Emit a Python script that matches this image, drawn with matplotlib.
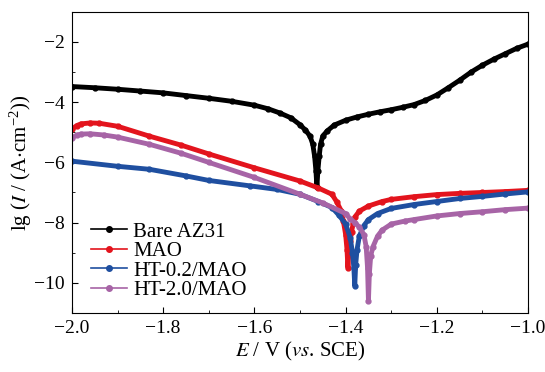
import matplotlib
matplotlib.use("Agg")
from matplotlib import pyplot as plt
from matplotlib.ticker import MultipleLocator, FuncFormatter

plt.rcParams['font.family'] = ['Liberation Serif', 'DejaVu Serif']
plt.rcParams['mathtext.fontset'] = 'stix'

# values (E in V, lg I)
bare_E = [-2.0, -1.95, -1.9, -1.85, -1.8, -1.75, -1.7, -1.65, -1.6, -1.57, -1.544, -1.52, -1.5,
          -1.488, -1.478, -1.472, -1.468, -1.465, -1.463, -1.461, -1.458, -1.455, -1.45, -1.44,
          -1.425, -1.4, -1.375, -1.35, -1.325, -1.3, -1.275, -1.25, -1.225, -1.2, -1.175, -1.15,
          -1.125, -1.1, -1.075, -1.05, -1.025, -1.0]
bare_I = [-3.48, -3.52, -3.57, -3.63, -3.69, -3.78, -3.87, -3.97, -4.1, -4.22, -4.36, -4.52, -4.75,
          -4.93, -5.13, -5.4, -5.8, -6.3, -6.83, -6.3, -5.8, -5.4, -5.12, -4.95,
          -4.76, -4.6, -4.49, -4.4, -4.32, -4.25, -4.17, -4.08, -3.94, -3.76, -3.52, -3.27,
          -3.0, -2.77, -2.57, -2.39, -2.21, -2.07]

mao_E = [-2.0, -1.99, -1.98, -1.96, -1.94, -1.9, -1.83, -1.76, -1.7, -1.6, -1.5, -1.46, -1.43,
         -1.42, -1.41, -1.405, -1.4, -1.397, -1.395, -1.393, -1.39, -1.387, -1.383, -1.38, -1.37,
         -1.35, -1.32, -1.3, -1.25, -1.2, -1.15, -1.1, -1.05, -1.0]
mao_I = [-4.9, -4.78, -4.72, -4.69, -4.7, -4.8, -5.13, -5.43, -5.72, -6.18, -6.62, -6.85, -7.06,
         -7.3, -7.6, -7.95, -8.4, -8.9, -9.5, -9.0, -8.6, -8.3, -8.0, -7.82, -7.62,
         -7.45, -7.3, -7.23, -7.14, -7.07, -7.03, -7.0, -6.97, -6.93]

ht02_E = [-2.0, -1.9, -1.83, -1.75, -1.7, -1.61, -1.55, -1.5, -1.46, -1.43, -1.415, -1.4, -1.39,
          -1.385, -1.382, -1.38, -1.378, -1.375, -1.37, -1.36, -1.35, -1.33, -1.3, -1.25, -1.2,
          -1.15, -1.1, -1.05, -1.0]
ht02_I = [-5.96, -6.13, -6.23, -6.45, -6.6, -6.78, -6.9, -7.06, -7.3, -7.5, -7.75, -8.05, -8.5,
          -9.0, -9.5, -10.1, -9.4, -8.9, -8.45, -8.1, -7.9, -7.7, -7.53, -7.4, -7.3,
          -7.2, -7.13, -7.05, -6.98]

ht20_E = [-2.0, -1.99, -1.98, -1.96, -1.93, -1.9, -1.83, -1.76, -1.7, -1.6, -1.5, -1.45, -1.4,
          -1.39, -1.38, -1.37, -1.36, -1.355, -1.352, -1.35, -1.348, -1.345, -1.34, -1.33, -1.32,
          -1.3, -1.27, -1.25, -1.2, -1.15, -1.1, -1.05, -1.0]
ht20_I = [-5.18, -5.1, -5.06, -5.05, -5.09, -5.16, -5.4, -5.7, -6.0, -6.5, -7.06, -7.35, -7.7,
          -7.88, -8.0, -8.15, -8.4, -8.8, -9.5, -10.6, -9.7, -9.1, -8.8, -8.45, -8.25,
          -8.05, -7.95, -7.9, -7.78, -7.7, -7.64, -7.57, -7.52]

labels = ['Bare AZ31', 'MAO', 'HT-0.2/MAO', 'HT-2.0/MAO']
colors = ['black', '#e3141d', '#1f4fa0', '#a764a6']

fig = plt.figure(figsize=(5.45, 3.72), dpi=100)
ax = fig.add_axes([0.132, 0.159, 0.837, 0.809])

for E, I, lab, c in zip([bare_E, mao_E, ht02_E, ht20_E], [bare_I, mao_I, ht02_I, ht20_I], labels, colors):
    ax.plot(E, I, color=c, lw=3.5, marker='o', ms=3.5, label=lab)

ax.set_xlim(-2.0, -1.0)
ax.set_ylim(-11, -1)
ax.xaxis.set_major_locator(MultipleLocator(0.2))
ax.xaxis.set_minor_locator(MultipleLocator(0.1))
ax.yaxis.set_major_locator(MultipleLocator(2))
ax.yaxis.set_minor_locator(MultipleLocator(1))
ax.xaxis.set_major_formatter(FuncFormatter(lambda v, p: ('%.1f' % v).replace('-', '\u2212')))
ax.yaxis.set_major_formatter(FuncFormatter(lambda v, p: ('%d' % v).replace('-', '\u2212')))
ax.tick_params(which='both', direction='in', labelsize=14, pad=5)
ax.tick_params(which='major', length=4)
ax.tick_params(which='minor', length=2.5)

ax.set_xlabel(r'$E$ / V ($vs$. SCE)', fontsize=15, labelpad=2)
ax.set_ylabel(r'lg ($I$ / (A$\cdot$cm$^{\mathregular{-2}}$))', fontsize=15, labelpad=0)

leg = ax.legend(loc='lower left', frameon=False, fontsize=15, handlelength=1.7, handletextpad=0.3,
                labelspacing=0.0, borderaxespad=0.2, bbox_to_anchor=(0.015, 0.0))
for h in leg.get_lines():
    h.set_linewidth(1.2)
    h.set_markersize(4)

fig.savefig('out.png', dpi=100)
